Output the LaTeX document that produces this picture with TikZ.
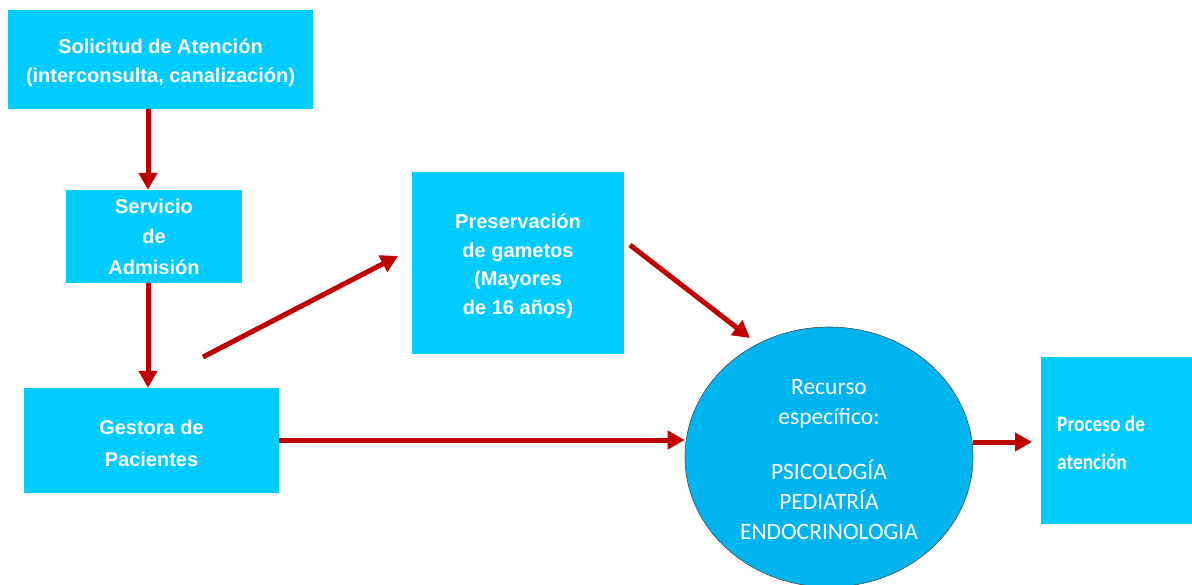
\documentclass[tikz,border=0pt]{standalone}
\usepackage{fontspec}
\setmainfont{Liberation Sans}
\newfontfamily\carl{Carlito}
\newfontfamily\carlcond[FakeStretch=0.88]{Carlito Bold}
\usetikzlibrary{arrows.meta,shapes.geometric}
\definecolor{boxblue}{HTML}{00CCFF}
\definecolor{circblue}{HTML}{00B4F0}
\definecolor{arrred}{HTML}{C00000}
\tikzset{
  bluebox/.style={fill=boxblue, draw=none, inner sep=0pt, text=white, font=\fontsize{20}{28.5}\selectfont\bfseries, align=center},
  redarrow/.style={draw=arrred, line width=5pt, -{Triangle[length=17pt,width=18pt]}},
}
\begin{document}
\begin{tikzpicture}[x=1pt,y=-1pt]
\useasboundingbox (0,0) rectangle (1192,585);
\begin{scope}
\clip (0,0) rectangle (1192,585);
\node[bluebox, minimum width=305pt, minimum height=99pt] (sol) at (160.5,59.5) {};
\node[bluebox] (soltxt) at (160.5,62.5) {Solicitud de Atención\\(interconsulta, canalización)};
\node[bluebox, minimum width=176pt, minimum height=93pt, font=\fontsize{20}{30.5}\selectfont\bfseries] (adm) at (154,236.5) {Servicio\\de\\Admisión};
\node[bluebox, minimum width=255pt, minimum height=105pt] (ges) at (151.5,440.5) {};
\node[bluebox, font=\fontsize{20}{32}\selectfont\bfseries] (gestxt) at (151.5,443.5) {Gestora de\\Pacientes};
\node[bluebox, minimum width=212pt, minimum height=182pt] (pre) at (518,263) {};
\node[bluebox] (pretxt) at (518,266) {Preservación\\de gametos\\(Mayores\\de 16 años)};
\node[ellipse, fill=circblue, draw=black!70, line width=0.6pt, minimum width=288pt, minimum height=260pt, inner sep=0pt] (rec) at (829,457) {};
\node[text=white, align=center, font=\carl\fontsize{23.5}{30}\selectfont, inner sep=0pt] (rectxt) at (829,460) {Recurso\\específico:\\[25pt]PSICOLOGÍA\\PEDIATRÍA\\ENDOCRINOLOGIA};
\node[fill=boxblue, minimum width=151pt, minimum height=167pt, inner sep=0pt] (pro) at (1116.5,440.5) {};
\node[text=white, font=\carlcond\fontsize{22}{38}\selectfont, align=left, anchor=west, inner sep=0pt] (protxt) at (1057,443) {Proceso de\\atención};
\end{scope}
\coordinate (g1) at (203,357);
\coordinate (p1) at (630,245);
\draw[redarrow] (sol.south -| 148,0) -- (adm.north -| 148,0);
\draw[redarrow] (adm.south -| 148,0) -- (ges.north -| 148,0);
\draw[redarrow] (g1) -- (398,256);
\draw[redarrow] (p1) -- (750,338);
\draw[redarrow] (ges.east |- 0,440) -- (rec.west |- 0,440);
\draw[redarrow] (rec.east |- 0,442) -- (1032,442);
\end{tikzpicture}
\end{document}
